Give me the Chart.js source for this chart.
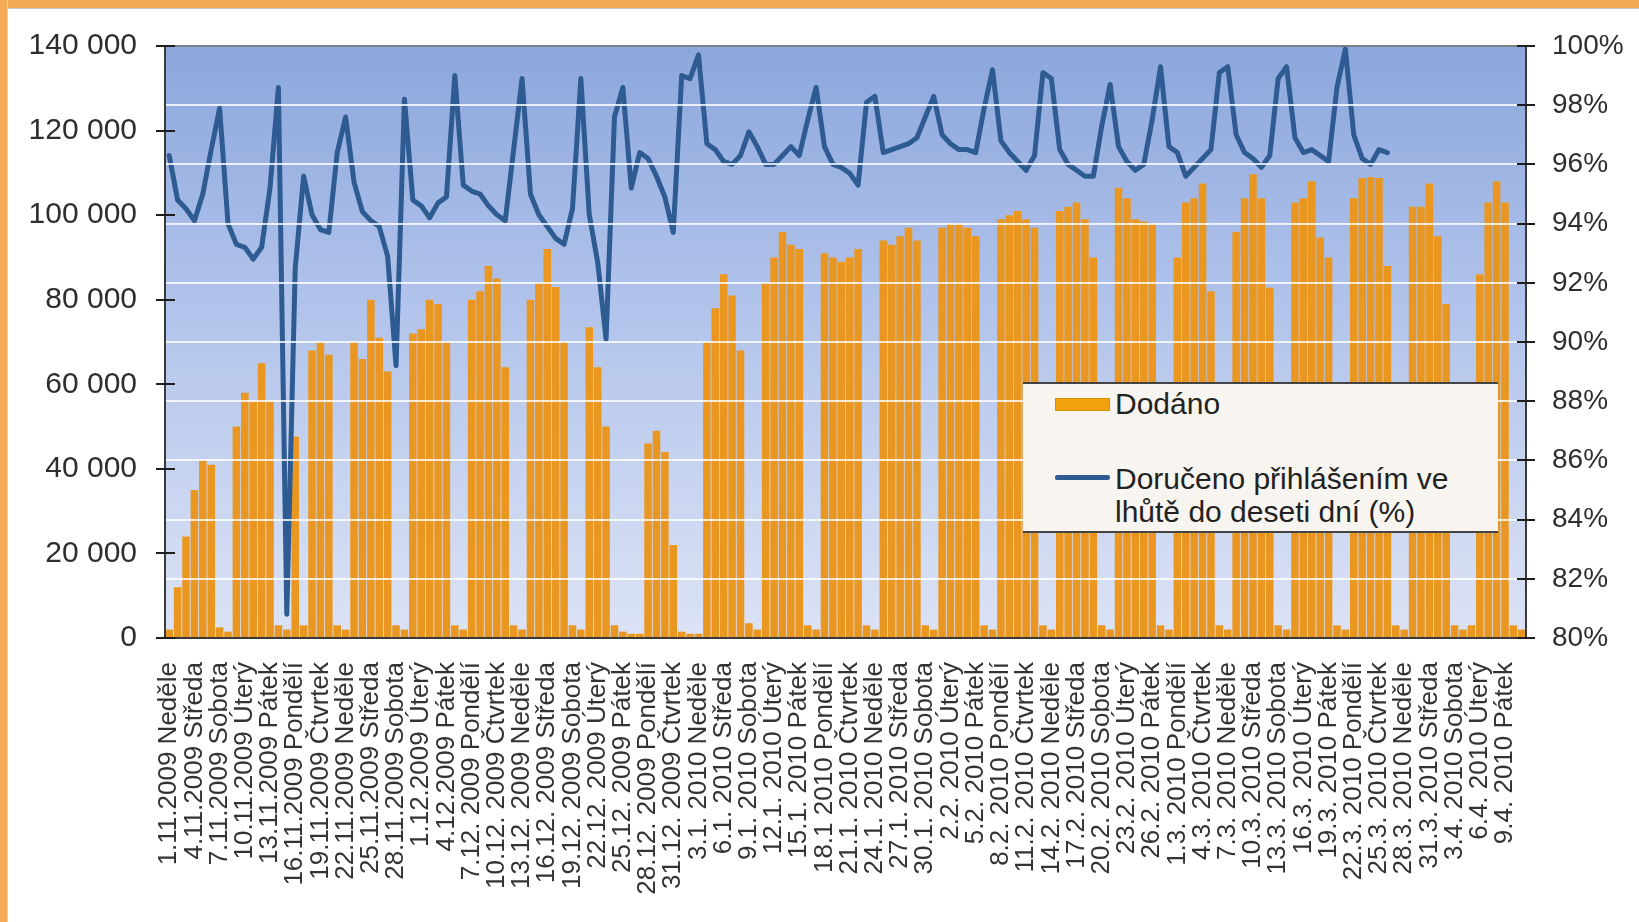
<!DOCTYPE html>
<html lang="cs">
<head>
<meta charset="utf-8">
<title>Dodáno / Doručeno přihlášením</title>
<script src="https://cdn.jsdelivr.net/npm/chart.js@4.4.1/dist/chart.umd.min.js"></script>
<style>
    html, body { margin: 0; padding: 0; background: #fff; }
    #frame { position: relative; width: 1639px; height: 922px; overflow: hidden; background: #fff; font-family: "Liberation Sans", Arial, sans-serif; }
    #frame canvas { position: absolute; left: 0; top: 0; }
    .edge-top { position: absolute; left: 0; top: 0; width: 1639px; height: 8px; background: #f4ab57; border-bottom: 1px solid #c9c9c9; z-index: 3; }
    .edge-left { position: absolute; left: 0; top: 0; width: 7px; height: 922px; background: #f4ab57; border-right: 1px solid #d4d4d4; z-index: 3; }
    .legend { position: absolute; left: 1023px; top: 382px; width: 475px; height: 147px; background: #f8f5f0; border-top: 2px solid #444; border-bottom: 2px solid #444; z-index: 2; color: #222; font-size: 30px; }
    .legend .box { position: absolute; left: 32px; top: 14px; width: 53px; height: 11px; background: #f2a20c; border: 1px solid #d98c00; }
    .legend .ln { position: absolute; left: 32px; top: 91px; width: 55px; height: 5px; background: #2e5b92; border-radius: 2px; }
    .legend .t1 { position: absolute; left: 92px; top: 2px; line-height: 36px; }
    .legend .t2 { position: absolute; left: 92px; top: 78px; line-height: 33px; white-space: nowrap; }
</style>
</head>
<body>
<div id="frame">
    <canvas id="chart" width="1639" height="922"></canvas>
    <div class="edge-top"></div>
    <div class="edge-left"></div>
    <div class="legend">
        <div class="box"></div><div class="t1">Dodáno</div>
        <div class="ln"></div><div class="t2">Doručeno přihlášením ve<br>lhůtě do deseti dní (%)</div>
    </div>
</div>
<script>
// Tick labels, every third day from 1.11.2009
const tickLabels = [
    "1.11.2009 Neděle", "4.11.2009 Středa", "7.11.2009 Sobota", "10.11.2009 Úterý",
    "13.11.2009 Pátek", "16.11.2009 Pondělí", "19.11.2009 Čtvrtek", "22.11.2009 Neděle",
    "25.11.2009 Středa", "28.11.2009 Sobota", "1.12.2009 Úterý", "4.12.2009 Pátek",
    "7.12. 2009 Pondělí", "10.12. 2009 Čtvrtek", "13.12. 2009 Neděle", "16.12. 2009 Středa",
    "19.12. 2009 Sobota", "22.12. 2009 Úterý", "25.12. 2009 Pátek", "28.12. 2009 Pondělí",
    "31.12. 2009 Čtvrtek", "3.1. 2010 Neděle", "6.1. 2010 Středa", "9.1. 2010 Sobota",
    "12.1. 2010 Úterý", "15.1. 2010 Pátek", "18.1 2010 Pondělí", "21.1. 2010 Čtvrtek",
    "24.1. 2010 Neděle", "27.1. 2010 Středa", "30.1. 2010 Sobota", "2.2. 2010 Úterý",
    "5.2. 2010 Pátek", "8.2. 2010 Pondělí", "11.2. 2010 Čtvrtek", "14.2. 2010 Neděle",
    "17.2. 2010 Středa", "20.2. 2010 Sobota", "23.2. 2010 Úterý", "26.2. 2010 Pátek",
    "1.3. 2010 Pondělí", "4.3. 2010 Čtvrtek", "7.3. 2010 Neděle", "10.3. 2010 Středa",
    "13.3. 2010 Sobota", "16.3. 2010 Úterý", "19.3. 2010 Pátek", "22.3. 2010 Pondělí",
    "25.3. 2010 Čtvrtek", "28.3. 2010 Neděle", "31.3. 2010 Středa", "3.4. 2010 Sobota",
    "6.4. 2010 Úterý", "9.4. 2010 Pátek"
];

// Dodáno, one value per day (1.11.2009 - 11.4.2010)
const dodano = [
    2000,
    12000, 24000, 35000, 42000, 41000, 2500, 1500,
    50000, 58000, 56000, 65000, 56000, 3000, 2000,
    47600, 3000, 68000, 70000, 67000, 3000, 2000,
    70000, 66000, 80000, 71000, 63000, 3000, 2000,
    72000, 73000, 80000, 79000, 70000, 3000, 2000,
    80000, 82000, 88000, 85000, 64000, 3000, 2000,
    80000, 84000, 92000, 83000, 70000, 3000, 2000,
    73500, 64000, 50000, 3000, 1500, 1000, 1000,
    46000, 49000, 44000, 22000, 1500, 1000, 1000,
    70000, 78000, 86000, 81000, 68000, 3500, 2000,
    84000, 90000, 96000, 93000, 92000, 3000, 2000,
    91000, 90000, 89000, 90000, 92000, 3000, 2000,
    94000, 93000, 95000, 97000, 94000, 3000, 2000,
    97000, 98000, 98000, 97000, 95000, 3000, 2000,
    99000, 100000, 101000, 99000, 97000, 3000, 2000,
    101000, 102000, 103000, 99000, 90000, 3000, 2000,
    106500, 104000, 99000, 98500, 98000, 3000, 2000,
    90000, 103000, 104000, 107500, 82000, 3000, 2000,
    96000, 104000, 109700, 104000, 82800, 3000, 2000,
    103000, 104000, 108000, 94700, 90000, 3000, 2000,
    104000, 108800, 109000, 108800, 88000, 3000, 2000,
    102000, 102000, 107500, 95000, 79000, 3000, 2000,
    3000, 86000, 103000, 108000, 103000, 3000, 2000
];

// Doručeno přihlášením ve lhůtě do deseti dní (%), known up to 26.3.2010
const doruceno = [
    96.3, 94.8, 94.5, 94.1, 95.0, 96.5, 97.9, 94.0, 93.3, 93.2,
    92.8, 93.2, 95.2, 98.6, 80.8, 92.5, 95.6, 94.3, 93.8, 93.7,
    96.4, 97.6, 95.4, 94.4, 94.1, 93.9, 92.9, 89.2, 98.2, 94.8,
    94.6, 94.2, 94.7, 94.9, 99.0, 95.3, 95.1, 95.0, 94.6, 94.3,
    94.1, 96.5, 98.9, 95.0, 94.3, 93.9, 93.5, 93.3, 94.5, 98.9,
    94.3, 92.7, 90.1, 97.6, 98.6, 95.2, 96.4, 96.2, 95.6, 94.9,
    93.7, 99.0, 98.9, 99.7, 96.7, 96.5, 96.1, 96.0, 96.3, 97.1,
    96.6, 96.0, 96.0, 96.3, 96.6, 96.3, 97.5, 98.6, 96.6, 96.0,
    95.9, 95.7, 95.3, 98.1, 98.3, 96.4, 96.5, 96.6, 96.7, 96.9,
    97.6, 98.3, 97.0, 96.7, 96.5, 96.5, 96.4, 97.9, 99.2, 96.8,
    96.4, 96.1, 95.8, 96.3, 99.1, 98.9, 96.5, 96.0, 95.8, 95.6,
    95.6, 97.3, 98.7, 96.6, 96.1, 95.8, 96.0, 97.5, 99.3, 96.6,
    96.4, 95.6, 95.9, 96.2, 96.5, 99.1, 99.3, 97.0, 96.4, 96.2,
    95.9, 96.3, 98.9, 99.3, 96.9, 96.4, 96.5, 96.3, 96.1, 98.6,
    99.9, 97.0, 96.2, 96.0, 96.5, 96.4,
    null, null, null, null, null, null, null, null,
    null, null, null, null, null, null, null, null
];

(function () {
    "use strict";

    const categories = dodano.map((v, i) => (i % 3 === 0 ? tickLabels[i / 3] : ""));
    const spaced = (v) => String(v).replace(/\B(?=(\d{3})+(?!\d))/g, " ");

    // plot background + axis frame with crossing tick marks
    const framePlugin = {
        id: "frame",
        beforeDraw(chart) {
            const { ctx, chartArea: a } = chart;
            const g = ctx.createLinearGradient(0, a.top, 0, a.bottom);
            g.addColorStop(0, "#8ca7dc");
            g.addColorStop(0.45, "#b2c4eb");
            g.addColorStop(1, "#dce3f5");
            ctx.save();
            ctx.fillStyle = g;
            ctx.fillRect(a.left, a.top, a.right - a.left, a.bottom - a.top);
            ctx.restore();
        },
        afterDraw(chart) {
            const { ctx, chartArea: a } = chart;
            ctx.save();
            ctx.strokeStyle = "#7b7f86";
            ctx.lineWidth = 2;
            ctx.beginPath();
            ctx.moveTo(a.left, a.top);
            ctx.lineTo(a.right, a.top);
            ctx.stroke();
            ctx.strokeStyle = "#3a3a3a";
            ctx.beginPath();
            ctx.moveTo(a.left, a.top);
            ctx.lineTo(a.left, a.bottom);
            ctx.lineTo(a.right, a.bottom);
            ctx.moveTo(a.right, a.top);
            ctx.lineTo(a.right, a.bottom);
            ctx.stroke();
            ctx.strokeStyle = "#1e1e1e";
            ctx.beginPath();
            chart.scales.y.ticks.forEach((t) => {
                const y = Math.round(chart.scales.y.getPixelForValue(t.value));
                ctx.moveTo(a.left - 9, y);
                ctx.lineTo(a.left + 10, y);
            });
            chart.scales.y1.ticks.forEach((t) => {
                const y = Math.round(chart.scales.y1.getPixelForValue(t.value));
                ctx.moveTo(a.right - 9, y);
                ctx.lineTo(a.right + 9, y);
            });
            ctx.stroke();
            ctx.restore();
        },
    };

    const ctx = document.getElementById("chart").getContext("2d");
    new Chart(ctx, {
        type: "bar",
        data: {
            labels: categories,
            datasets: [
                {
                    label: "Dodáno",
                    data: dodano,
                    backgroundColor: "#ea9722",
                    barPercentage: 0.9,
                    categoryPercentage: 1,
                    yAxisID: "y",
                    order: 2,
                },
                {
                    type: "line",
                    label: "Doručeno přihlášením ve lhůtě do deseti dní (%)",
                    data: doruceno,
                    borderColor: "#2e5b92",
                    borderWidth: 5,
                    borderJoinStyle: "round",
                    borderCapStyle: "round",
                    pointRadius: 0,
                    tension: 0,
                    spanGaps: false,
                    yAxisID: "y1",
                    order: 1,
                },
            ],
        },
        options: {
            responsive: false,
            animation: false,
            devicePixelRatio: 1,
            layout: { padding: { top: 42, left: 0, right: 0, bottom: 0 } },
            plugins: {
                legend: { display: false },
                tooltip: { enabled: false },
            },
            scales: {
                x: {
                    grid: { display: false, drawTicks: false },
                    border: { display: false },
                    ticks: {
                        autoSkip: false,
                        minRotation: 90,
                        maxRotation: 90,
                        padding: 24,
                        color: "#333333",
                        font: { family: "'Liberation Sans', Arial, sans-serif", size: 26 },
                    },
                    afterFit: (s) => { s.height = 284; },
                },
                y: {
                    position: "left",
                    min: 0,
                    max: 140000,
                    grid: { display: false, drawTicks: false },
                    border: { display: false },
                    ticks: {
                        stepSize: 20000,
                        padding: 28,
                        color: "#2e2e2e",
                        font: { family: "'Liberation Sans', Arial, sans-serif", size: 30 },
                        callback: (v) => spaced(v),
                    },
                    afterFit: (s) => { s.width = 165; },
                },
                y1: {
                    position: "right",
                    min: 80,
                    max: 100,
                    grid: {
                        z: 1,
                        drawTicks: false,
                        lineWidth: 2,
                        color: (c) => (c.tick && (c.tick.value === 80 || c.tick.value === 100)
                            ? "rgba(0,0,0,0)" : "rgba(255,255,255,0.8)"),
                    },
                    border: { display: false },
                    ticks: {
                        stepSize: 2,
                        padding: 26,
                        color: "#2e2e2e",
                        font: { family: "'Liberation Sans', Arial, sans-serif", size: 28 },
                        callback: (v) => v + "%",
                    },
                    afterFit: (s) => { s.width = 113; },
                },
            },
        },
        plugins: [framePlugin],
    });
})();
</script>
</body>
</html>
